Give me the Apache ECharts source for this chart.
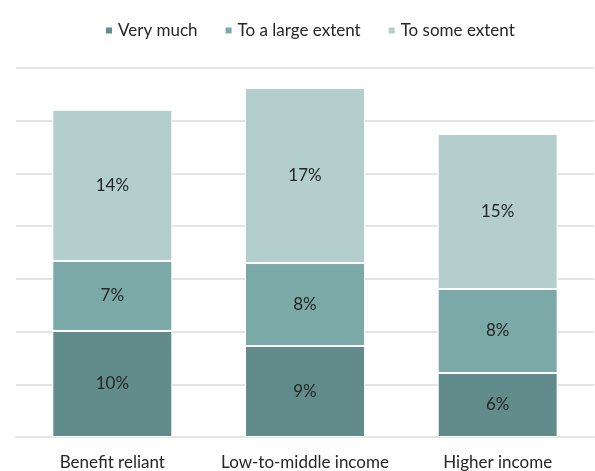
<!DOCTYPE html>
<html><head><meta charset="utf-8">
<script src="https://cdn.jsdelivr.net/npm/echarts@6/dist/echarts.min.js"></script>
<style>html,body{margin:0;padding:0;background:#fff}#c{width:595px;height:471px}</style>
</head><body><div id="c"></div>
<script>
const categories = ['Benefit reliant', 'Low-to-middle income', 'Higher income'];
const veryMuch = [10.06, 8.63, 6.07];
const largeExtent = [6.64, 7.87, 7.97];
const someExtent = [14.33, 16.6, 14.7];
const seriesNames = ['Very much', 'To a large extent', 'To some extent'];
const colors = ['#628c8b', '#7aa9a7', '#b4cdcd'];
const font = 'Lato, "Open Sans", sans-serif';

const mk = (name, data, color) => ({
  name, type: 'bar', stack: 'a', data, barWidth: 120,
  itemStyle: { color, borderColor: '#fff', borderWidth: 1 },
  label: { show: true, position: 'inside', formatter: p => Math.round(p.value) + '%',
    color: '#262626', fontSize: 17, fontFamily: font }
});

const chart = echarts.init(document.getElementById('c'));
chart.setOption({
  animation: false,
  color: colors,
  legend: { top: 17, left: 99, itemWidth: 8, itemHeight: 8, itemGap: 26, icon: 'rect',
    textStyle: { fontSize: 17, color: '#262626', fontFamily: font } },
  grid: { left: 16, right: 1, top: 68, bottom: 34 },
  xAxis: { type: 'category', data: categories,
    axisLine: { lineStyle: { color: '#e3e3e3', width: 2 } }, axisTick: { show: false },
    axisLabel: { interval: 0, fontSize: 17, color: '#262626', fontFamily: font, margin: 17 } },
  yAxis: { type: 'value', min: 0, max: 35, interval: 5, axisLabel: { show: false },
    axisLine: { show: false }, axisTick: { show: false },
    splitLine: { lineStyle: { color: '#e3e3e3', width: 2 } } },
  series: [mk(seriesNames[0], veryMuch, colors[0]), mk(seriesNames[1], largeExtent, colors[1]), mk(seriesNames[2], someExtent, colors[2])]
});
</script></body></html>
